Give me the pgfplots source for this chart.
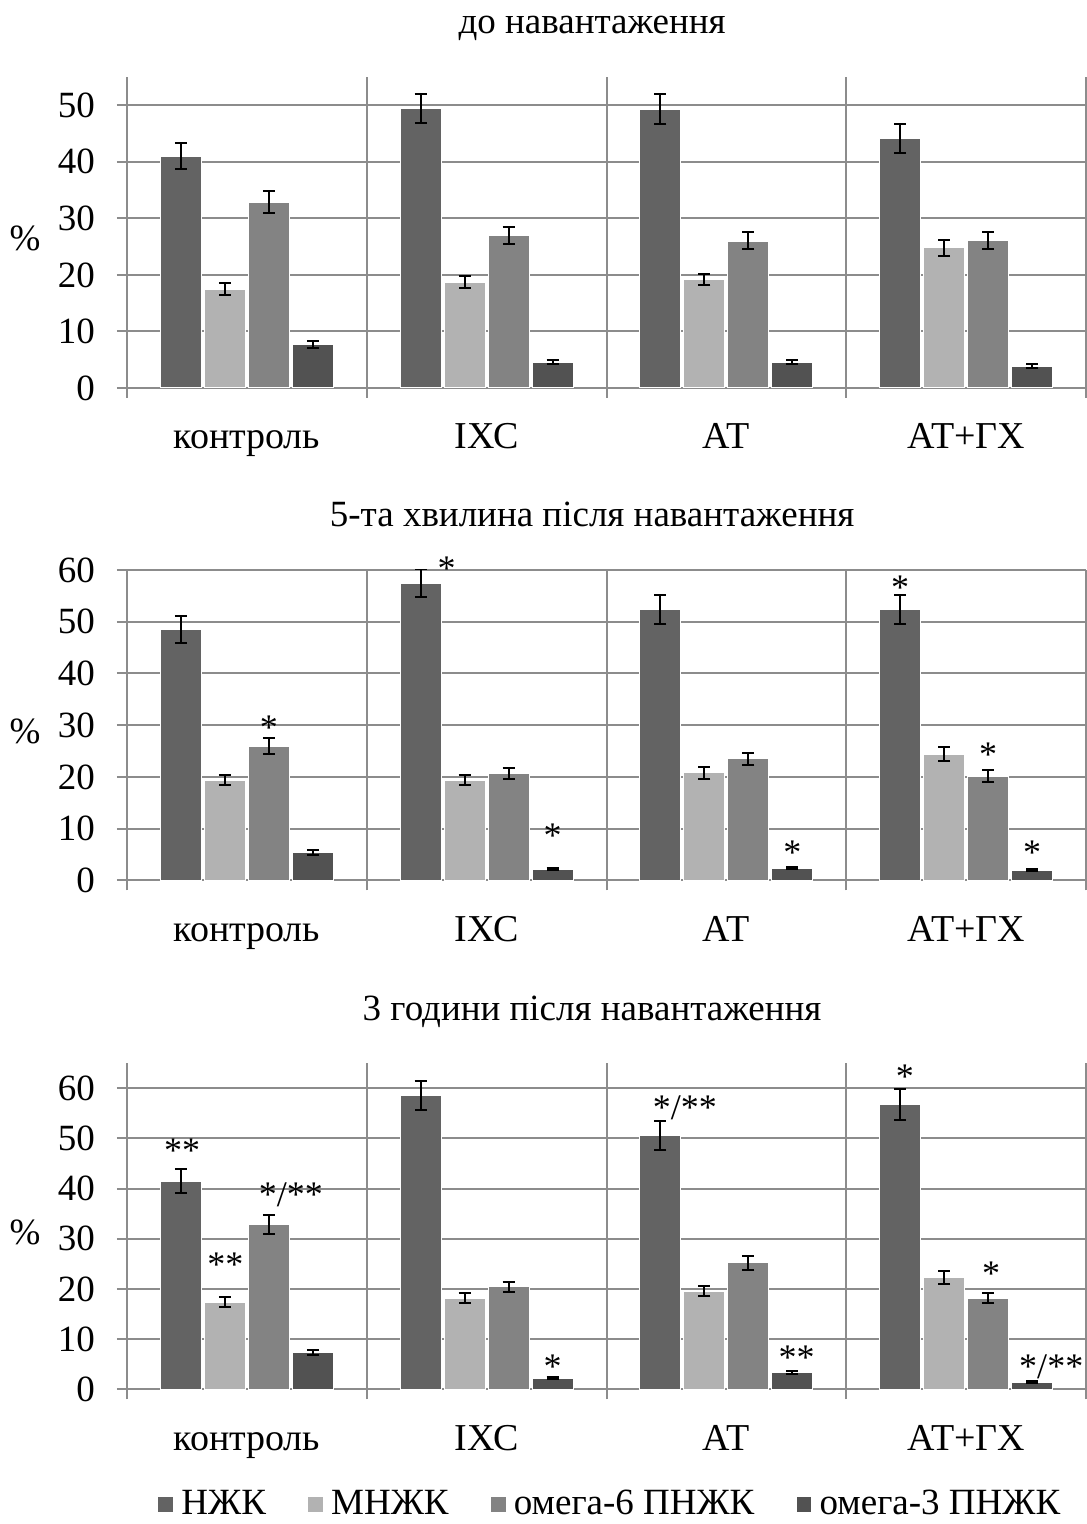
\documentclass[border=0pt]{standalone}
\usepackage{fontspec}
\setmainfont{Liberation Serif}
\usepackage{pgfplots}
\usepackage{pgfplotstable}
\pgfplotsset{compat=1.18}
\definecolor{cA}{HTML}{636363}
\definecolor{cB}{HTML}{B2B2B2}
\definecolor{cC}{HTML}{838383}
\definecolor{cD}{HTML}{525252}
\definecolor{gridc}{HTML}{8C8C8C}
\newcommand{\fs}{\fontsize{18.5}{21}\selectfont}
\newcommand{\fsc}{\fontsize{19}{22}\selectfont}
\newcommand{\fst}{\fontsize{18}{20}\selectfont}

\pgfplotstableread{
x v1 e1 v2 e2 v3 e3 v4 e4
0 41.0 2.3 17.5 1.0 32.9 1.9 7.7 0.6
1 49.4 2.6 18.7 1.1 26.9 1.5 4.6 0.4
2 49.3 2.7 19.2 1.0 26.0 1.5 4.6 0.3
3 44.1 2.5 24.8 1.4 26.1 1.5 3.9 0.3
}\tA
\pgfplotstableread{
x v1 e1 v2 e2 v3 e3 v4 e4
0 48.5 2.6 19.4 1.0 26.0 1.5 5.4 0.4
1 57.4 2.7 19.4 1.0 20.7 1.1 2.2 0.2
2 52.4 2.8 20.8 1.1 23.5 1.2 2.4 0.2
3 52.4 2.8 24.4 1.3 20.2 1.1 2.0 0.2
}\tB
\pgfplotstableread{
x v1 e1 v2 e2 v3 e3 v4 e4
0 41.5 2.3 17.3 1.0 32.9 1.9 7.3 0.5
1 58.6 2.9 18.2 1.0 20.4 1.0 2.2 0.2
2 50.5 2.9 19.6 1.0 25.2 1.4 3.4 0.3
3 56.8 3.1 22.3 1.3 18.1 1.0 1.4 0.2
}\tC

\tikzset{star/.style={font=\fst, anchor=base, yshift=-9pt, inner sep=0pt}}
\pgfplotsset{
  sqlegend/.style={legend image code/.code={\fill[##1] (0pt,-4pt) rectangle (8pt,4pt);}},
  panel/.style={
    scale only axis, width=479.5pt, anchor=south west,
    xmin=-0.5, xmax=3.5, ymin=0,
    ybar=1.5pt, bar width=20.5pt,
    axis x line=bottom, axis y line=left,
    axis line style={draw=gridc, line width=1pt, -},
    xtick={0,1,2,3}, xticklabels={контроль,ІХС,АТ,АТ+ГХ},
    minor xtick={-0.5,0.5,1.5,2.5,3.5},
    xminorgrids=true, ymajorgrids=true,
    tick align=outside, major tick length=5pt, minor tick length=5pt,
    tick style={gridc, line width=1pt},
    major x tick style={draw=none},
    grid style={gridc, line width=1pt},
    minor grid style={gridc, line width=1pt},
    tick label style={font=\fs},
    /pgf/number format/assume math mode=true,
    yticklabel style={xshift=-7.5pt},
    xticklabel style={anchor=base, yshift=-25.5pt, font=\fsc},
    clip mode=individual,
    every axis y label/.style={at={(axis description cs:0,0.5)}, anchor=center, xshift=-51pt, yshift=-3pt, font=\fs},
    ylabel={\%},
    title style={at={(0.485,1)}, anchor=base, yshift=15.5pt, font=\fs},
    error bars/y dir=both, error bars/y explicit,
    error bars/error bar style={black, line width=1pt},
    error bars/error mark options={rotate=90, black, mark size=3pt, line width=1pt},
  },
}

\begin{document}
\begin{tikzpicture}
\useasboundingbox (0,0) rectangle (543pt,762pt);

% Panel 1
\begin{axis}[panel, at={(63.5pt,568pt)}, height=155.5pt, ymax=55, ytick={0,10,...,50},
  title={до навантаження}]
\addplot[fill=cA, draw=white, line width=0.6pt] table[x=x, y=v1, y error=e1] {\tA};
\addplot[fill=cB, draw=white, line width=0.6pt] table[x=x, y=v2, y error=e2] {\tA};
\addplot[fill=cC, draw=white, line width=0.6pt] table[x=x, y=v3, y error=e3] {\tA};
\addplot[fill=cD, draw=white, line width=0.6pt] table[x=x, y=v4, y error=e4] {\tA};
\end{axis}

% Panel 2
\begin{axis}[panel, at={(63.5pt,321.75pt)}, height=155.25pt, ymax=60, ytick={0,10,...,60},
  title={5-та хвилина після навантаження}]
\addplot[fill=cA, draw=white, line width=0.6pt] table[x=x, y=v1, y error=e1] {\tB};
\addplot[fill=cB, draw=white, line width=0.6pt] table[x=x, y=v2, y error=e2] {\tB};
\addplot[fill=cC, draw=white, line width=0.6pt] table[x=x, y=v3, y error=e3] {\tB};
\addplot[fill=cD, draw=white, line width=0.6pt] table[x=x, y=v4, y error=e4] {\tB};
\node[star] at (axis cs:0.092,30.7) {*};
\node[star] at (axis cs:0.833,61.5) {*};
\node[star] at (axis cs:1.275,9.8) {*};
\node[star] at (axis cs:2.275,6.5) {*};
\node[star] at (axis cs:2.725,57.7) {*};
\node[star] at (axis cs:3.092,25.6) {*};
\node[star] at (axis cs:3.275,6.5) {*};
\end{axis}

% Panel 3
\begin{axis}[panel, at={(63.5pt,67.35pt)}, height=163.15pt, ymax=65, ytick={0,10,...,60},
  title={3 години після навантаження},
  legend style={at={(0.506,-0.352)}, anchor=center, legend columns=4, draw=none, font=\fs,
    nodes={inner xsep=3.5pt},
    /tikz/every even column/.append style={column sep=17pt}}]
\addplot[fill=cA, draw=white, line width=0.6pt, sqlegend] table[x=x, y=v1, y error=e1] {\tC};
\addlegendentry{НЖК}
\addplot[fill=cB, draw=white, line width=0.6pt, sqlegend] table[x=x, y=v2, y error=e2] {\tC};
\addlegendentry{МНЖК}
\addplot[fill=cC, draw=white, line width=0.6pt, sqlegend] table[x=x, y=v3, y error=e3] {\tC};
\addlegendentry{омега-6 ПНЖК}
\addplot[fill=cD, draw=white, line width=0.6pt, sqlegend] table[x=x, y=v4, y error=e4] {\tC};
\addlegendentry{омега-3 ПНЖК}
\node[star] at (axis cs:-0.27,48.7) {**};
\node[star] at (axis cs:-0.09,26.0) {**};
\node[star] at (axis cs:0.184,40.1) {*/**};
\node[star] at (axis cs:1.275,5.8) {*};
\node[star] at (axis cs:1.827,57.3) {*/**};
\node[star] at (axis cs:2.293,7.5) {**};
\node[star] at (axis cs:2.745,63.6) {*};
\node[star] at (axis cs:3.104,24.2) {*};
\node[star] at (axis cs:3.355,5.8) {*/**};
\end{axis}
\end{tikzpicture}
\end{document}
